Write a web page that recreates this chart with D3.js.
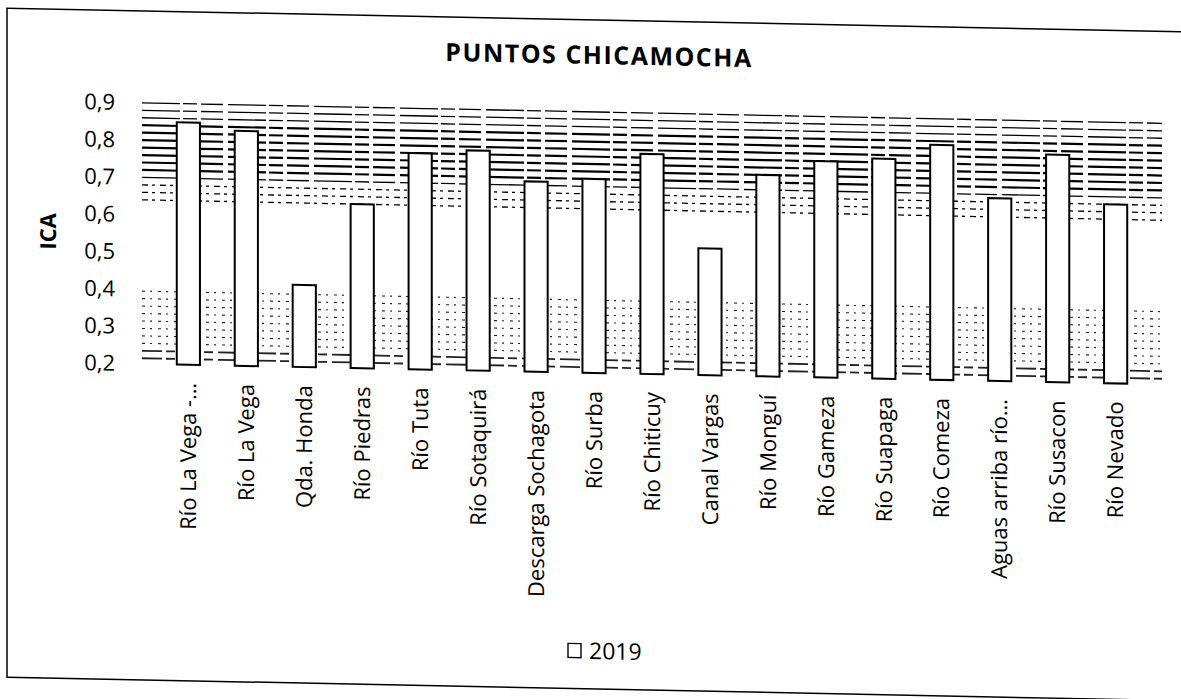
<!DOCTYPE html>
<html>
<head>
<meta charset="utf-8">
<script src="https://cdn.jsdelivr.net/npm/d3@7"></script>
<style>
  body { margin: 0; background: #fff; }
  text { font-family: "Open Sans", "DejaVu Sans", sans-serif; fill: #000; }
</style>
</head>
<body>
<div id="chart"></div>
<script>
// data
const puntos = [
  "Río La Vega -…", "Río La Vega", "Qda. Honda", "Río Piedras", "Río Tuta",
  "Río Sotaquirá", "Descarga Sochagota", "Río Surba", "Río Chiticuy", "Canal Vargas",
  "Río Monguí", "Río Gameza", "Río Suapaga", "Río Comeza", "Aguas arriba río…",
  "Río Susacon", "Río Nevado"
];
const ica2019 = [0.85, 0.83, 0.42, 0.64, 0.78, 0.79, 0.71, 0.72, 0.79, 0.54, 0.74, 0.78, 0.79, 0.83, 0.69, 0.81, 0.68];
const yTicks = [0.2, 0.3, 0.4, 0.5, 0.6, 0.7, 0.8, 0.9];
const serie = "2019";

const width = 1181;
const height = 699;
const margin = { top: 100, right: 19, bottom: 338, left: 142 };

const svg = d3.select("#chart")
  .append("svg")
  .attr("width", width)
  .attr("height", height);

// the scan is slightly skewed, so the whole page is too
const g = svg.append("g").attr("transform", "skewY(1.15)");

// frame
g.append("rect")
  .attr("x", 7).attr("y", 8)
  .attr("width", width + 20).attr("height", 669)
  .attr("fill", "none").attr("stroke", "#000").attr("stroke-width", 1.5);

const x = d3.scaleBand()
  .domain(puntos)
  .range([margin.left, width - margin.right])
  .padding(0.6);

const y = d3.scaleLinear()
  .domain([0.2, 0.9])
  .range([height - margin.bottom, margin.top]);

// background hatching (gradient fill that came out as lines in the scan)
const hatch = g.append("g");
d3.range(0.9, 0.635, -0.02).forEach((v, i) => {
  hatch.append("line")
    .attr("x1", x.range()[0]).attr("x2", x.range()[1])
    .attr("y1", y(v)).attr("y2", y(v))
    .attr("stroke", "#000")
    .attr("stroke-width", i > 2 && i < 10 ? 2.2 : 1.3)
    .attr("stroke-dasharray", i < 11 ? "38,3,14,4,22,5" : "6,4,3,5");
});
d3.range(0.395, 0.2, -0.02).forEach((v, i) => {
  hatch.append("line")
    .attr("x1", x.range()[0]).attr("x2", x.range()[1])
    .attr("y1", y(v)).attr("y2", y(v))
    .attr("stroke", "#222")
    .attr("stroke-width", i > 7 ? 1.8 : 1.1)
    .attr("stroke-dasharray", i > 7 ? "20,4,9,5" : "3,5,2,6");
});

// bars
g.append("g")
  .selectAll("rect")
  .data(ica2019)
  .join("rect")
  .attr("x", (d, i) => x(puntos[i]))
  .attr("y", d => y(d))
  .attr("width", x.bandwidth())
  .attr("height", d => y(0.2) - y(d))
  .attr("fill", "#fff")
  .attr("stroke", "#000")
  .attr("stroke-width", 2);

// y axis (labels only)
const yAxis = g.append("g")
  .attr("transform", `translate(${margin.left - 24},0)`)
  .call(d3.axisLeft(y).tickValues(yTicks).tickSize(0)
    .tickFormat(d => d3.format(".1f")(d).replace(".", ",")));
yAxis.select(".domain").remove();
yAxis.selectAll("text").attr("font-size", 22).attr("font-family", "Open Sans");

g.append("text")
  .attr("transform", `translate(56,${(y(0.2) + y(0.9)) / 2}) rotate(-90)`)
  .attr("text-anchor", "middle")
  .attr("font-size", 22)
  .attr("font-weight", "bold")
  .text("ICA");

// x axis labels
const xAxis = g.append("g")
  .attr("transform", `translate(0,${y(0.2)})`)
  .call(d3.axisBottom(x).tickSize(0));
xAxis.select(".domain").remove();
xAxis.selectAll("text")
  .attr("font-size", 22)
  .attr("font-family", "Open Sans")
  .attr("text-anchor", "end")
  .attr("transform", "rotate(-90)")
  .attr("x", -18)
  .attr("y", 0)
  .attr("dy", "0.35em");

// title
g.append("text")
  .attr("x", 599).attr("y", 52)
  .attr("text-anchor", "middle")
  .attr("font-size", 25)
  .attr("letter-spacing", 1.5)
  .attr("font-weight", "bold")
  .text("PUNTOS CHICAMOCHA");

// legend
const legend = g.append("g").attr("transform", "translate(568,639)");
legend.append("rect")
  .attr("x", 0).attr("y", -7)
  .attr("width", 13).attr("height", 14)
  .attr("fill", "#fff").attr("stroke", "#000").attr("stroke-width", 1.4);
legend.append("text")
  .attr("x", 21).attr("y", 0).attr("dy", "0.35em")
  .attr("font-size", 23)
  .text(serie);
</script>
</body>
</html>
